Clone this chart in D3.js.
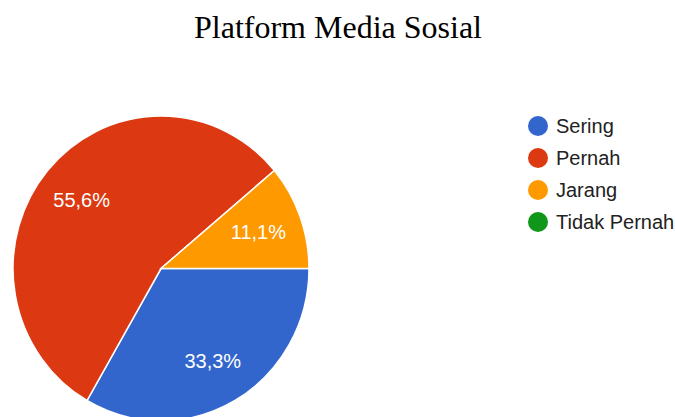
<!DOCTYPE html>
<html lang="id">
<head>
<meta charset="UTF-8">
<title>Platform Media Sosial</title>
<style>
  body { margin: 0; background: #fff; }
  svg { display: block; }
</style>
</head>
<body>
<div id="chart"></div>
<script src="https://d3js.org/d3.v7.min.js"></script>
<script>
  // data
  const categories = ["Sering", "Pernah", "Jarang", "Tidak Pernah"];
  const counts = [3, 5, 1, 0];
  const colors = ["#3366cc", "#dc3912", "#ff9900", "#109618"];

  const W = 675, H = 417;
  const CX = 161, CY = 268.5, R = 148, SY = 1.03;

  const svg = d3.select("#chart").append("svg")
    .attr("width", W).attr("height", H);

  svg.append("text")
    .attr("x", 338).attr("y", 38)
    .attr("text-anchor", "middle")
    .style("font-family", "'Liberation Serif', 'Times New Roman', serif")
    .style("font-size", "32px")
    .style("fill", "#000")
    .text("Platform Media Sosial");

  const color = d3.scaleOrdinal().domain(categories).range(colors);

  const pie = d3.pie()
    .sort(null)
    .startAngle(Math.PI / 2)
    .endAngle(Math.PI / 2 + 2 * Math.PI)
    .value(d => d.v);

  const rows = categories.map((c, i) => ({ c, v: counts[i] }));
  const total = d3.sum(counts);
  const arcs = pie(rows).filter(d => d.data.v > 0);

  const arc = d3.arc().innerRadius(0).outerRadius(R);
  const labelArc = d3.arc().innerRadius(R * 0.7).outerRadius(R * 0.7);

  const g = svg.append("g").attr("transform", `translate(${CX},${CY})`);

  g.append("g")
    .attr("transform", `scale(1,${SY})`)
    .selectAll("path")
    .data(arcs)
    .join("path")
    .attr("d", arc)
    .attr("fill", d => color(d.data.c))
    .attr("stroke", "#fff")
    .attr("stroke-width", 1.5);

  const fmt = v => (v / total * 100).toFixed(1).replace(".", ",") + "%";

  g.selectAll("text")
    .data(arcs)
    .join("text")
    .attr("transform", d => {
      const [x, y] = labelArc.centroid(d);
      return `translate(${x},${y * SY})`;
    })
    .attr("text-anchor", "middle")
    .attr("dy", "0.36em")
    .style("font-family", "Arial, 'Liberation Sans', sans-serif")
    .style("font-size", "20px")
    .style("fill", "#fff")
    .text(d => fmt(d.data.v));

  // legend
  const item = svg.append("g").selectAll("g")
    .data(categories)
    .join("g")
    .attr("transform", (d, i) => `translate(538,${126 + i * 32})`);

  item.append("circle")
    .attr("r", 10)
    .attr("fill", d => color(d));

  item.append("text")
    .attr("x", 18)
    .attr("dy", "0.36em")
    .style("font-family", "Arial, 'Liberation Sans', sans-serif")
    .style("font-size", "20px")
    .style("fill", "#222")
    .text(d => d);
</script>
</body>
</html>
